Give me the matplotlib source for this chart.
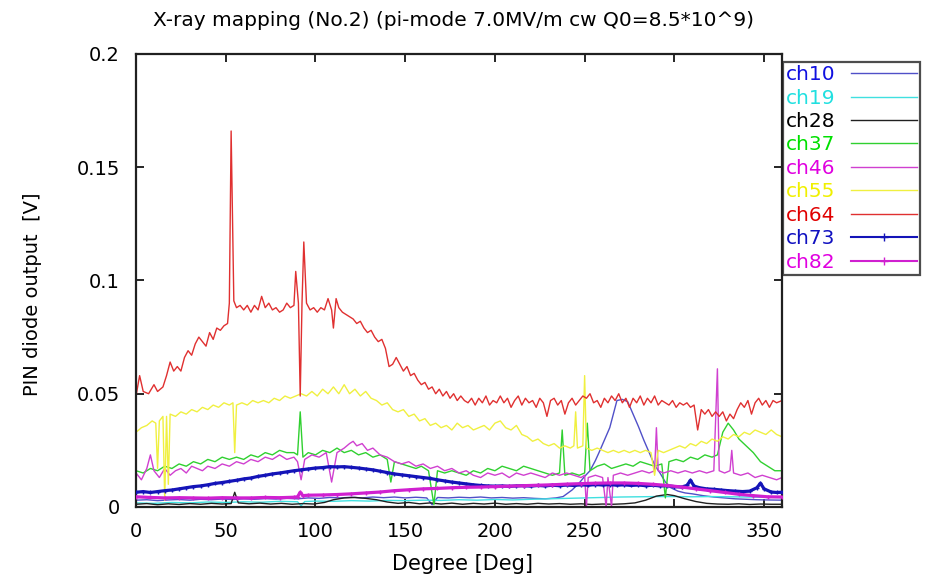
import numpy as np
import matplotlib
matplotlib.use("Agg")
import matplotlib.pyplot as plt

plt.rcParams['font.family'] = ['DejaVu Sans']

# ch10 (thin blue, hump near 270 deg)
ch10_deg = [0, 6, 12, 18, 24, 30, 36, 42, 48, 54, 60, 66, 72, 78, 84, 90, 96, 102, 108, 114,
            120, 126, 132, 138, 144, 150, 156, 162, 165, 168, 174, 180, 186, 192, 198, 204, 210,
            216, 222, 228, 234, 238, 243, 247, 250, 253, 256, 258, 261, 264, 266, 268, 271, 274,
            277, 280, 283, 286, 289, 292, 295, 298, 302, 306, 310, 316, 322, 328, 334, 340, 346,
            352, 360]
ch10_val = [0.0030, 0.0032, 0.0028, 0.0031, 0.0033, 0.0030, 0.0034, 0.0032, 0.0035, 0.0033,
            0.0036, 0.0034, 0.0037, 0.0035, 0.0038, 0.0036, 0.0040, 0.0038, 0.0042, 0.0040,
            0.0043, 0.0040, 0.0044, 0.0041, 0.0044, 0.0040, 0.0043, 0.0040, 0.0010, 0.0042,
            0.0040, 0.0043, 0.0041, 0.0044, 0.0040, 0.0042, 0.0039, 0.0041, 0.0038, 0.0036,
            0.0040, 0.0046, 0.0075, 0.0106, 0.0135, 0.0160, 0.0205, 0.0240, 0.0295, 0.0350,
            0.0410, 0.0470, 0.0475, 0.0465, 0.0410, 0.0355, 0.0295, 0.0240, 0.0185, 0.0150,
            0.0110, 0.0085, 0.0070, 0.0062, 0.0058, 0.0050, 0.0044, 0.0040, 0.0036, 0.0034,
            0.0032, 0.0031, 0.0030]

# ch19 (cyan)
ch19_deg = [0, 10, 20, 30, 40, 50, 60, 70, 80, 90, 92, 94, 100, 110, 120, 130, 140, 150, 160,
            170, 180, 190, 200, 210, 220, 230, 240, 250, 260, 270, 280, 290, 300, 310, 320, 330,
            340, 350, 360]
ch19_val = [0.0018, 0.0016, 0.0020, 0.0018, 0.0022, 0.0020, 0.0023, 0.0021, 0.0025, 0.0023,
            0.0005, 0.0024, 0.0026, 0.0025, 0.0028, 0.0026, 0.0029, 0.0028, 0.0030, 0.0029,
            0.0032, 0.0030, 0.0033, 0.0031, 0.0034, 0.0036, 0.0038, 0.0040, 0.0042, 0.0044,
            0.0045, 0.0046, 0.0046, 0.0045, 0.0046, 0.0045, 0.0044, 0.0043, 0.0042]

# ch28 (black)
ch28_deg = [0, 6, 12, 18, 24, 30, 36, 42, 48, 53, 55, 57, 63, 69, 75, 81, 87, 93, 99, 105, 110,
            116, 122, 128, 134, 140, 146, 152, 158, 164, 170, 176, 182, 188, 194, 200, 206, 212,
            218, 224, 230, 236, 242, 248, 254, 260, 266, 272, 278, 284, 290, 296, 300, 306, 312,
            318, 324, 330, 336, 342, 348, 354, 360]
ch28_val = [0.0012, 0.0015, 0.0010, 0.0014, 0.0011, 0.0015, 0.0012, 0.0016, 0.0013, 0.0015,
            0.0065, 0.0018, 0.0014, 0.0017, 0.0013, 0.0016, 0.0012, 0.0015, 0.0013, 0.0020,
            0.0032, 0.0040, 0.0042, 0.0038, 0.0032, 0.0022, 0.0016, 0.0020, 0.0014, 0.0018,
            0.0013, 0.0017, 0.0012, 0.0016, 0.0013, 0.0017, 0.0012, 0.0015, 0.0012, 0.0016,
            0.0013, 0.0015, 0.0012, 0.0014, 0.0011, 0.0013, 0.0012, 0.0014, 0.0018, 0.0030,
            0.0048, 0.0055, 0.0050, 0.0036, 0.0024, 0.0016, 0.0013, 0.0012, 0.0014, 0.0011,
            0.0013, 0.0012, 0.0012]

# ch37 (green)
ch37_deg = [0, 4, 8, 12, 16, 20, 24, 28, 32, 36, 40, 44, 48, 52, 56, 60, 64, 68, 72, 76, 80,
            84, 88, 90, 91.5, 93, 96, 100, 104, 108, 112, 116, 120, 124, 128, 132, 136, 140, 142,
            144, 148, 152, 156, 159, 163, 166, 168, 172, 176, 180, 184, 188, 192, 196, 200, 204,
            208, 212, 216, 220, 224, 228, 232, 236, 237.5, 239, 243, 247, 250, 251.5, 253, 257,
            261, 265, 269, 273, 277, 281, 285, 289, 293, 295, 297, 301, 305, 309, 313, 317, 321,
            324, 327, 330, 333, 336, 340, 344, 348, 352, 356, 360]
ch37_val = [0.016, 0.015, 0.017, 0.016, 0.018, 0.017, 0.019, 0.018, 0.020, 0.019, 0.021, 0.020,
            0.022, 0.021, 0.022, 0.021, 0.023, 0.022, 0.024, 0.023, 0.025, 0.024, 0.024, 0.023,
            0.042, 0.022, 0.024, 0.023, 0.025, 0.024, 0.026, 0.024, 0.025, 0.023, 0.024, 0.022,
            0.023, 0.021, 0.011, 0.020, 0.019, 0.018, 0.017, 0.018, 0.016, 0.001, 0.016, 0.015,
            0.016, 0.015, 0.014, 0.016, 0.015, 0.017, 0.016, 0.018, 0.017, 0.016, 0.018, 0.017,
            0.016, 0.015, 0.014, 0.015, 0.034, 0.014, 0.015, 0.014, 0.015, 0.037, 0.016, 0.018,
            0.019, 0.017, 0.018, 0.019, 0.018, 0.020, 0.019, 0.018, 0.019, 0.004, 0.020, 0.021,
            0.020, 0.022, 0.021, 0.023, 0.022, 0.023, 0.033, 0.037, 0.034, 0.030, 0.027, 0.024,
            0.020, 0.018, 0.016, 0.016]

# ch46 (thin magenta)
ch46_deg = [0, 3, 6, 8, 10, 13, 16, 19, 22, 25, 28, 31, 34, 37, 40, 44, 48, 52, 56, 60, 64, 68,
            72, 76, 80, 84, 88, 90, 92, 94, 98, 102, 106, 109, 112, 116, 119, 121, 123, 126, 129,
            132, 136, 140, 144, 148, 152, 156, 160, 164, 168, 172, 176, 180, 184, 188, 192, 196,
            200, 204, 208, 212, 216, 220, 224, 228, 232, 236, 240, 244, 248, 250, 251, 252, 256,
            260, 262, 263, 265, 266, 270, 274, 278, 282, 286, 289, 290, 291, 294, 298, 302, 306,
            310, 314, 318, 322, 324, 325, 328, 331, 332, 333, 337, 341, 345, 349, 353, 357, 360]
ch46_val = [0.015, 0.012, 0.017, 0.023, 0.016, 0.013, 0.017, 0.014, 0.016, 0.017, 0.015, 0.018,
            0.017, 0.016, 0.018, 0.017, 0.019, 0.018, 0.020, 0.019, 0.021, 0.020, 0.022, 0.021,
            0.023, 0.021, 0.022, 0.020, 0.012, 0.021, 0.023, 0.022, 0.024, 0.011, 0.024, 0.026,
            0.028, 0.029, 0.027, 0.028, 0.025, 0.026, 0.023, 0.022, 0.020, 0.019, 0.020, 0.018,
            0.019, 0.017, 0.018, 0.016, 0.017, 0.015, 0.016, 0.014, 0.013, 0.015, 0.014, 0.015,
            0.013, 0.015, 0.014, 0.015, 0.014, 0.013, 0.015, 0.014, 0.015, 0.014, 0.013, 0.014,
            0.000, 0.013, 0.014, 0.013, 0.000, 0.013, 0.000, 0.014, 0.015, 0.014, 0.015, 0.016,
            0.015, 0.016, 0.035, 0.016, 0.015, 0.016, 0.015, 0.016, 0.015, 0.016, 0.015, 0.016,
            0.061, 0.016, 0.015, 0.016, 0.025, 0.015, 0.014, 0.015, 0.013, 0.014, 0.013, 0.012,
            0.013]

# ch55 (yellow)
ch55_deg = [0, 3, 6, 9, 11, 12, 13, 15, 16, 17, 18, 19, 22, 25, 28, 31, 34, 37, 40, 43, 46, 49,
            52, 54, 55, 56, 59, 62, 65, 68, 71, 74, 77, 80, 83, 86, 89, 92, 95, 98, 101, 104, 107,
            110, 113, 116, 119, 122, 125, 128, 131, 134, 137, 140, 143, 146, 149, 152, 155, 158,
            161, 164, 167, 170, 173, 176, 179, 182, 185, 188, 191, 194, 197, 200, 203, 206, 209,
            212, 215, 218, 221, 224, 227, 230, 233, 236, 239, 242, 244, 245, 246, 249, 250, 251,
            254, 257, 260, 263, 266, 269, 272, 275, 278, 281, 284, 287, 289, 291, 294, 297, 300,
            303, 306, 309, 312, 315, 318, 321, 324, 327, 330, 333, 336, 339, 342, 345, 348, 351,
            354, 357, 360]
ch55_val = [0.033, 0.035, 0.036, 0.038, 0.037, 0.017, 0.038, 0.040, 0.003, 0.040, 0.010, 0.041,
            0.040, 0.042, 0.041, 0.043, 0.042, 0.044, 0.043, 0.045, 0.044, 0.046, 0.045, 0.046,
            0.024, 0.045, 0.046, 0.045, 0.047, 0.046, 0.047, 0.046, 0.048, 0.047, 0.049, 0.048,
            0.049, 0.050, 0.049, 0.051, 0.049, 0.052, 0.050, 0.053, 0.050, 0.054, 0.050, 0.052,
            0.049, 0.051, 0.048, 0.047, 0.045, 0.046, 0.043, 0.042, 0.043, 0.040, 0.041, 0.038,
            0.039, 0.036, 0.037, 0.035, 0.036, 0.034, 0.037, 0.035, 0.036, 0.034, 0.035, 0.036,
            0.034, 0.037, 0.038, 0.035, 0.034, 0.036, 0.032, 0.031, 0.029, 0.030, 0.028, 0.027,
            0.028, 0.026, 0.027, 0.026, 0.027, 0.042, 0.026, 0.027, 0.058, 0.026, 0.025, 0.026,
            0.025, 0.024, 0.025, 0.024, 0.025, 0.024, 0.025, 0.024, 0.025, 0.024, 0.014, 0.025,
            0.024, 0.025, 0.026, 0.027, 0.026, 0.028, 0.027, 0.029, 0.028, 0.030, 0.029, 0.031,
            0.030, 0.032, 0.031, 0.033, 0.032, 0.034, 0.033, 0.032, 0.034, 0.032, 0.031]

# ch64 (red)
ch64_deg = [0, 2, 4, 7, 10, 12, 15, 17, 19, 21, 23, 25, 27, 29, 31, 33, 35, 37, 39, 41, 43, 45,
            47, 49, 51, 52, 53, 54.5, 56, 58, 60, 62, 64, 66, 68, 70, 72, 74, 76, 78, 80, 82, 84,
            86, 88, 89, 90.5, 91.5, 92.5, 93.5, 95, 97, 99, 101, 103, 105, 107, 109, 110, 111.5,
            113, 115, 117, 119, 121, 123, 125, 127, 129, 131, 133, 135, 137, 139, 141, 143, 145,
            147, 149, 151, 153, 155, 157, 159, 161, 163, 165, 167, 169, 171, 173, 175, 177, 179,
            181, 183, 185, 187, 189, 191, 193, 195, 197, 199, 201, 203, 205, 207, 209, 211, 213,
            215, 217, 219, 221, 223, 225, 227, 229, 231, 233, 235, 237, 239, 241, 243, 245, 247,
            249, 251, 253, 255, 257, 259, 261, 263, 265, 267, 269, 271, 273, 275, 277, 279, 281,
            283, 285, 287, 289, 291, 293, 295, 297, 299, 301, 303, 305, 307, 309, 311, 313, 315,
            317, 319, 321, 323, 325, 327, 329, 331, 333, 335, 337, 339, 341, 343, 345, 347, 349,
            351, 353, 355, 357, 360]
ch64_val = [0.049, 0.058, 0.051, 0.050, 0.054, 0.051, 0.053, 0.058, 0.064, 0.060, 0.062, 0.060,
            0.066, 0.069, 0.067, 0.072, 0.075, 0.073, 0.071, 0.077, 0.074, 0.079, 0.078, 0.080,
            0.081, 0.090, 0.166, 0.091, 0.088, 0.089, 0.087, 0.089, 0.086, 0.089, 0.087, 0.093,
            0.088, 0.090, 0.087, 0.088, 0.086, 0.087, 0.090, 0.088, 0.089, 0.104, 0.090, 0.049,
            0.090, 0.117, 0.090, 0.087, 0.088, 0.086, 0.088, 0.087, 0.092, 0.087, 0.079, 0.092,
            0.088, 0.086, 0.085, 0.084, 0.083, 0.081, 0.082, 0.079, 0.077, 0.078, 0.075, 0.073,
            0.074, 0.070, 0.062, 0.063, 0.066, 0.063, 0.060, 0.062, 0.058, 0.059, 0.056, 0.054,
            0.055, 0.052, 0.053, 0.050, 0.052, 0.049, 0.051, 0.048, 0.050, 0.047, 0.049, 0.047,
            0.046, 0.048, 0.045, 0.048, 0.046, 0.049, 0.045, 0.047, 0.046, 0.049, 0.046, 0.048,
            0.044, 0.047, 0.049, 0.045, 0.048, 0.046, 0.047, 0.044, 0.048, 0.046, 0.040, 0.047,
            0.048, 0.045, 0.047, 0.041, 0.046, 0.048, 0.045, 0.047, 0.049, 0.048, 0.050, 0.046,
            0.047, 0.044, 0.048, 0.046, 0.049, 0.047, 0.050, 0.046, 0.048, 0.044, 0.048, 0.046,
            0.049, 0.045, 0.048, 0.046, 0.049, 0.045, 0.047, 0.046, 0.045, 0.047, 0.044, 0.046,
            0.045, 0.046, 0.044, 0.045, 0.034, 0.043, 0.041, 0.043, 0.040, 0.042, 0.040, 0.042,
            0.038, 0.041, 0.039, 0.043, 0.046, 0.044, 0.047, 0.041, 0.046, 0.048, 0.045, 0.047,
            0.044, 0.047, 0.046, 0.047]

# ch73 (thick blue with + marks)
ch73_deg = [0, 4, 8, 12, 16, 20, 24, 28, 32, 36, 40, 44, 48, 52, 56, 60, 64, 68, 72, 76, 80, 84,
            88, 92, 96, 100, 104, 108, 112, 116, 120, 124, 128, 132, 136, 140, 144, 148, 152, 156,
            160, 164, 168, 172, 176, 180, 184, 188, 192, 196, 200, 204, 208, 212, 216, 220, 224,
            228, 232, 236, 240, 244, 248, 252, 256, 260, 264, 268, 272, 276, 280, 284, 288, 292,
            296, 300, 304, 307, 309, 311, 314, 318, 322, 326, 330, 334, 338, 342, 346, 348, 350,
            354, 357, 360]
ch73_val = [0.0065, 0.0068, 0.0064, 0.0068, 0.0072, 0.0075, 0.0080, 0.0085, 0.0090, 0.0093,
            0.0098, 0.0104, 0.0108, 0.0113, 0.0118, 0.0124, 0.0128, 0.0135, 0.0140, 0.0146,
            0.0150, 0.0155, 0.0160, 0.0164, 0.0168, 0.0172, 0.0174, 0.0178, 0.0177, 0.0178,
            0.0175, 0.0172, 0.0168, 0.0164, 0.0158, 0.0152, 0.0146, 0.0142, 0.0138, 0.0134,
            0.0130, 0.0126, 0.0120, 0.0115, 0.0110, 0.0106, 0.0102, 0.0098, 0.0095, 0.0093,
            0.0092, 0.0093, 0.0091, 0.0093, 0.0094, 0.0092, 0.0095, 0.0093, 0.0096, 0.0094,
            0.0097, 0.0095, 0.0098, 0.0096, 0.0099, 0.0097, 0.0099, 0.0096, 0.0098, 0.0095,
            0.0097, 0.0094, 0.0096, 0.0093, 0.0094, 0.0090, 0.0088, 0.0095, 0.0118, 0.0092,
            0.0085, 0.0080, 0.0078, 0.0075, 0.0072, 0.0070, 0.0068, 0.0070, 0.0085, 0.0105,
            0.0080, 0.0066, 0.0064, 0.0065]

# ch82 (thick magenta with + marks)
ch82_deg = [0, 8, 16, 24, 32, 40, 48, 56, 64, 72, 80, 88, 90, 91.5, 93, 96, 104, 112, 120, 128,
            136, 144, 152, 160, 168, 176, 184, 192, 200, 208, 216, 224, 232, 240, 248, 256, 264,
            272, 280, 288, 296, 304, 312, 320, 328, 336, 344, 352, 360]
ch82_val = [0.0045, 0.0042, 0.0040, 0.0041, 0.0040, 0.0039, 0.0041, 0.0040, 0.0040, 0.0042,
            0.0041, 0.0043, 0.0045, 0.0065, 0.0050, 0.0052, 0.0053, 0.0055, 0.0058, 0.0062,
            0.0066, 0.0072, 0.0076, 0.0080, 0.0082, 0.0085, 0.0087, 0.0088, 0.0090, 0.0092,
            0.0094, 0.0096, 0.0098, 0.0101, 0.0103, 0.0105, 0.0106, 0.0106, 0.0104, 0.0100,
            0.0095, 0.0088, 0.0080, 0.0072, 0.0064, 0.0056, 0.0050, 0.0045, 0.0044]

labels = ['ch10', 'ch19', 'ch28', 'ch37', 'ch46', 'ch55', 'ch64', 'ch73', 'ch82']
line_colors = ['#5050c8', '#40e0e0', '#202020', '#30d030', '#d040d0', '#f0f040', '#e03030',
               '#1414b8', '#d020d0']
text_colors = ['#1010e0', '#20e0e0', '#000000', '#00e000', '#e000e0', '#f0f000', '#e00000',
               '#1010c0', '#e000e0']

series = [(ch10_deg, ch10_val), (ch19_deg, ch19_val), (ch28_deg, ch28_val),
          (ch37_deg, ch37_val), (ch46_deg, ch46_val), (ch55_deg, ch55_val),
          (ch64_deg, ch64_val), (ch73_deg, ch73_val), (ch82_deg, ch82_val)]

fig = plt.figure(figsize=(9.26, 5.8), dpi=100)
ax = fig.add_axes([0.1469, 0.1259, 0.6976, 0.781])

handles = []
for i, (d, v) in enumerate(series):
    if labels[i] in ('ch73', 'ch82'):
        h, = ax.plot(d, v, color=line_colors[i], lw=2.3, marker='+', ms=3.5, mew=1.0,
                     label=labels[i], zorder=3)
    else:
        h, = ax.plot(d, v, color=line_colors[i], lw=1.0, label=labels[i], zorder=2)
    handles.append(h)

ax.set_xlim(0, 360)
ax.set_ylim(0, 0.2)
ax.set_xticks([0, 50, 100, 150, 200, 250, 300, 350])
ax.set_yticks([0, 0.05, 0.1, 0.15, 0.2])
ax.set_yticklabels(['0', '0.05', '0.1', '0.15', '0.2'])
ax.tick_params(direction='in', length=6, width=1.2, top=True, right=True, labelsize=14)
ax.tick_params(axis='x', pad=11)
ax.tick_params(axis='y', pad=11.5)
for s in ax.spines.values():
    s.set_linewidth(1.6)
    s.set_color('#202020')

fig.text(0.49, 0.965, 'X-ray mapping (No.2) (pi-mode 7.0MV/m cw Q0=8.5*10^9)',
         fontsize=14.5, ha='center', va='center')
ax.set_xlabel('Degree [Deg]', fontsize=15)
ax.xaxis.set_label_coords(0.505, -0.104)
ax.set_ylabel('PIN diode output  [V]', fontsize=14)
ax.yaxis.set_label_coords(-0.146, 0.469)

leg = ax.legend(handles=handles, loc='upper left', bbox_to_anchor=(1.0016, 0.982),
                markerfirst=False, numpoints=1, handlelength=3.3, handletextpad=0.75,
                fontsize=14.5, labelspacing=0.22, borderaxespad=0.0, borderpad=0.15,
                fancybox=False, frameon=True, edgecolor='#202020')
leg.get_frame().set_linewidth(1.6)
for t, c in zip(leg.get_texts(), text_colors):
    t.set_color(c)
for lh in leg.legend_handles[7:]:
    lh.set_linewidth(1.5)
    lh.set_markersize(6)

fig.savefig('out.png', dpi=100)
